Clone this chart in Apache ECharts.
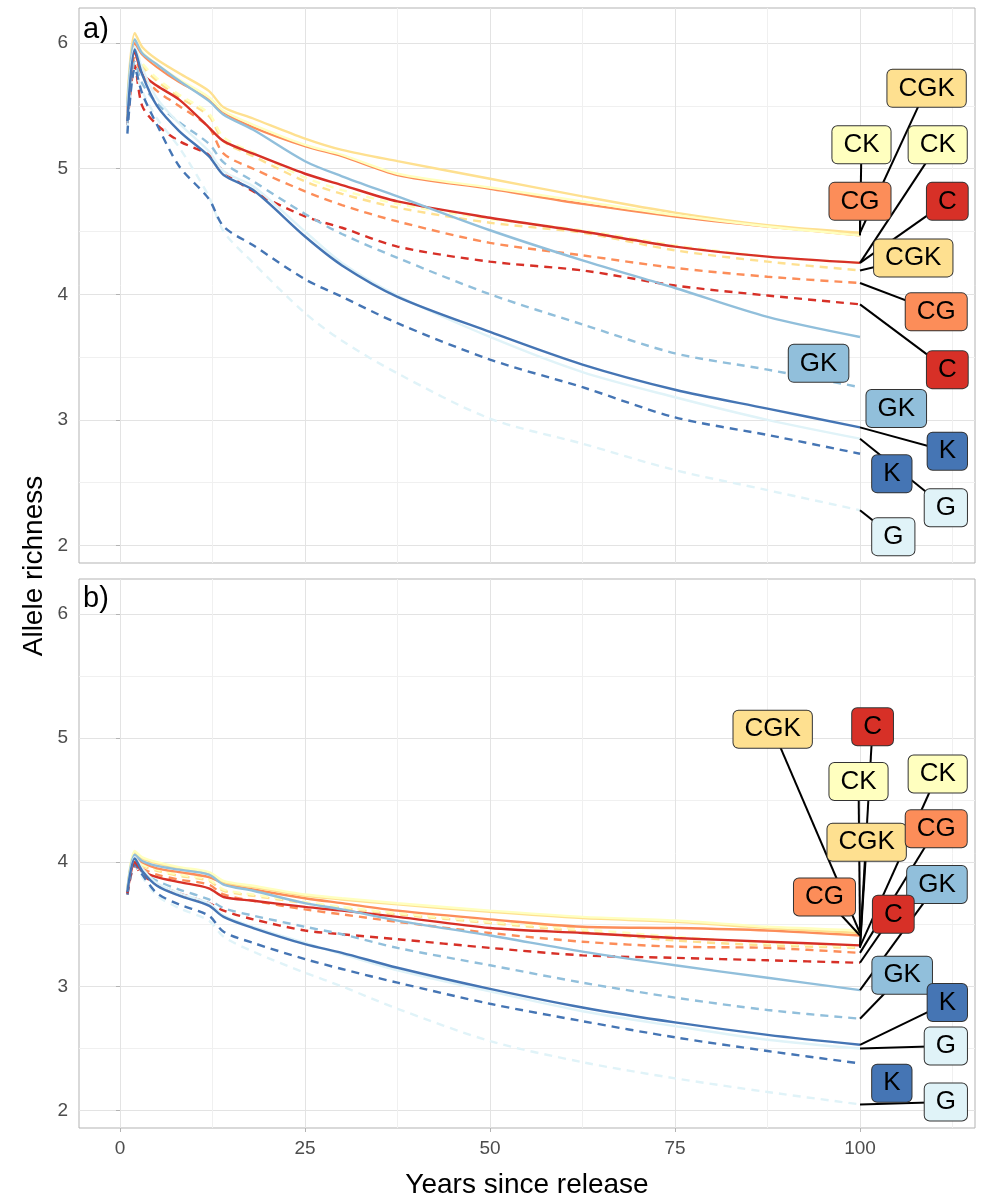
<!DOCTYPE html>
<html><head><meta charset="utf-8">
<script src="https://cdn.jsdelivr.net/npm/echarts@6/dist/echarts.min.js"></script>
<style>html,body{margin:0;padding:0;background:#fff}#c{width:986px;height:1200px}</style>
</head><body><div id="c"></div>
<script>
// ---------- data ----------
const years = [1,2,3,5,8,12,14,18,25,30,37.5,50,62.5,75,87.5,100];
const groups = ['C','CG','CGK','CK','GK','G','K'];
const groupColors = {C:'#d73027', CG:'#fc8d59', CGK:'#fee090', CK:'#ffffbf', GK:'#91bfdb', G:'#e0f3f8', K:'#4575b4'};
const xMajorTicks = [0,25,50,75,100];
const xMinorTicks = [12.5,37.5,62.5,87.5,112.5];
const yMajorTicks = [2,3,4,5,6];
const yMinorTicks = [2.5,3.5,4.5,5.5];
const panelNames = ['a)','b)'];

// panel a
const a_C_solid    = [5.45,5.93,5.76,5.66,5.55,5.33,5.22,5.12,4.96,4.87,4.74,4.61,4.50,4.38,4.30,4.25];
const a_C_dashed   = [5.35,5.82,5.50,5.35,5.22,5.11,4.98,4.82,4.62,4.53,4.38,4.26,4.19,4.07,3.99,3.92];
const a_CG_solid   = [5.48,6.00,5.91,5.81,5.69,5.56,5.45,5.33,5.18,5.10,4.95,4.84,4.72,4.62,4.54,4.47];
const a_CG_dashed  = [5.38,5.88,5.75,5.62,5.50,5.33,5.12,5.00,4.82,4.71,4.58,4.41,4.31,4.21,4.14,4.09];
const a_CGK_solid  = [5.55,6.08,5.97,5.87,5.76,5.62,5.49,5.40,5.24,5.15,5.06,4.92,4.78,4.65,4.55,4.49];
const a_CGK_dashed = [5.42,5.95,5.82,5.70,5.57,5.42,5.22,5.10,4.90,4.80,4.69,4.57,4.49,4.35,4.26,4.19];
const a_CK_solid   = [5.50,6.03,5.93,5.83,5.71,5.57,5.46,5.35,5.19,5.11,4.96,4.85,4.74,4.63,4.54,4.47];
const a_CK_dashed  = [5.44,5.96,5.84,5.72,5.59,5.44,5.25,5.13,4.93,4.83,4.72,4.60,4.51,4.39,4.30,4.25];
const a_GK_solid   = [5.50,6.03,5.92,5.83,5.70,5.54,5.43,5.31,5.06,4.94,4.78,4.51,4.27,4.05,3.82,3.66];
const a_GK_dashed  = [5.35,5.85,5.68,5.52,5.37,5.20,5.05,4.90,4.64,4.48,4.29,4.00,3.76,3.53,3.40,3.26];
const a_G_solid    = [5.45,5.97,5.80,5.56,5.36,5.14,4.98,4.86,4.50,4.25,3.99,3.66,3.38,3.18,3.00,2.85];
const a_G_dashed   = [5.30,5.78,5.62,5.40,5.17,4.78,4.50,4.25,3.85,3.63,3.37,3.01,2.81,2.60,2.44,2.28];
const a_K_solid    = [5.38,5.95,5.75,5.50,5.30,5.10,4.95,4.83,4.46,4.23,3.98,3.70,3.44,3.24,3.09,2.94];
const a_K_dashed   = [5.28,5.80,5.60,5.35,5.02,4.76,4.54,4.39,4.12,3.98,3.77,3.48,3.26,3.02,2.88,2.73];

// panel b
const b_C_solid    = [3.75,4.00,3.93,3.88,3.84,3.79,3.72,3.69,3.64,3.61,3.56,3.47,3.43,3.39,3.36,3.33];
const b_C_dashed   = [3.74,3.97,3.90,3.82,3.75,3.67,3.61,3.54,3.45,3.42,3.38,3.31,3.25,3.23,3.21,3.19];
const b_CG_solid   = [3.77,4.05,4.00,3.95,3.92,3.88,3.83,3.78,3.71,3.67,3.61,3.54,3.48,3.47,3.45,3.41];
const b_CG_dashed  = [3.75,4.00,3.95,3.90,3.86,3.82,3.74,3.69,3.62,3.58,3.52,3.43,3.36,3.32,3.31,3.27];
const b_CGK_solid  = [3.78,4.08,4.03,3.99,3.95,3.91,3.84,3.80,3.73,3.70,3.66,3.60,3.55,3.52,3.47,3.43];
const b_CGK_dashed = [3.76,4.02,3.97,3.93,3.89,3.85,3.77,3.73,3.67,3.63,3.58,3.51,3.44,3.37,3.33,3.31];
const b_CK_solid   = [3.78,4.09,4.04,4.00,3.96,3.92,3.85,3.81,3.74,3.71,3.67,3.61,3.56,3.53,3.48,3.45];
const b_CK_dashed  = [3.76,4.03,3.98,3.94,3.90,3.86,3.78,3.74,3.68,3.64,3.59,3.52,3.46,3.40,3.35,3.32];
const b_GK_solid   = [3.78,4.06,4.01,3.97,3.94,3.90,3.82,3.77,3.67,3.62,3.53,3.41,3.28,3.17,3.07,2.97];
const b_GK_dashed  = [3.74,4.00,3.92,3.85,3.78,3.70,3.63,3.57,3.48,3.42,3.31,3.17,3.03,2.91,2.81,2.74];
const b_G_solid    = [3.77,4.04,3.95,3.83,3.75,3.67,3.57,3.48,3.35,3.26,3.13,2.96,2.80,2.68,2.57,2.50];
const b_G_dashed   = [3.75,3.98,3.88,3.73,3.63,3.53,3.40,3.28,3.11,3.00,2.82,2.56,2.39,2.26,2.15,2.05];
const b_K_solid    = [3.76,4.03,3.93,3.81,3.73,3.65,3.56,3.47,3.34,3.27,3.15,2.98,2.83,2.71,2.61,2.53];
const b_K_dashed   = [3.74,3.98,3.90,3.75,3.66,3.57,3.44,3.35,3.22,3.14,3.03,2.86,2.72,2.59,2.48,2.38];

// label annotations: text, target line, label position (data units), leader shown
const a_labelText   = ['CGK','CK','CG','CK','C','CGK','CG','C','GK','GK','K','K','G','G'];
const a_labelTarget = ['CGK_solid','CK_solid','CG_solid','CK_dashed','C_solid','CGK_dashed','CG_dashed','C_dashed','GK_dashed','GK_solid','K_solid','K_dashed','G_solid','G_dashed'];
const a_labelX      = [109.0,100.2,100.0,110.5,111.8,107.2,110.3,111.8,94.4,104.9,111.8,104.3,111.6,104.5];
const a_labelY      = [5.64,5.19,4.74,5.19,4.74,4.29,3.86,3.40,3.45,3.09,2.75,2.57,2.30,2.07];
const a_labelLeader = [1,1,1,1,1,1,1,1,0,0,1,0,1,1];

const b_labelText   = ['CGK','C','CK','CGK','CK','CG','GK','CG','C','GK','K','G','K','G'];
const b_labelTarget = ['CGK_solid','C_solid','CK_solid','CGK_dashed','CK_dashed','CG_dashed','GK_solid','CG_solid','C_dashed','GK_dashed','K_solid','G_solid','K_dashed','G_dashed'];
const b_labelX      = [88.2,101.7,99.8,100.9,110.5,110.3,110.4,95.2,104.5,105.7,111.8,111.6,104.3,111.6];
const b_labelY      = [5.07,5.09,4.65,4.16,4.71,4.27,3.82,3.72,3.58,3.09,2.87,2.52,2.22,2.07];
const b_labelLeader = [1,1,1,1,1,1,1,1,1,1,1,1,0,1];

// ---------- build ----------
const panels = [
  {C_solid:a_C_solid,C_dashed:a_C_dashed,CG_solid:a_CG_solid,CG_dashed:a_CG_dashed,CGK_solid:a_CGK_solid,CGK_dashed:a_CGK_dashed,
   CK_solid:a_CK_solid,CK_dashed:a_CK_dashed,GK_solid:a_GK_solid,GK_dashed:a_GK_dashed,G_solid:a_G_solid,G_dashed:a_G_dashed,K_solid:a_K_solid,K_dashed:a_K_dashed,
   labels:{text:a_labelText,target:a_labelTarget,x:a_labelX,y:a_labelY,leader:a_labelLeader}},
  {C_solid:b_C_solid,C_dashed:b_C_dashed,CG_solid:b_CG_solid,CG_dashed:b_CG_dashed,CGK_solid:b_CGK_solid,CGK_dashed:b_CGK_dashed,
   CK_solid:b_CK_solid,CK_dashed:b_CK_dashed,GK_solid:b_GK_solid,GK_dashed:b_GK_dashed,G_solid:b_G_solid,G_dashed:b_G_dashed,K_solid:b_K_solid,K_dashed:b_K_dashed,
   labels:{text:b_labelText,target:b_labelTarget,x:b_labelX,y:b_labelY,leader:b_labelLeader}}
];

const XMIN = -5.54, XMAX = 115.54, YMIN = 1.86, YMAX = 6.28;
const FONT = '"Liberation Sans", Arial, Helvetica, sans-serif';
const gridBox = [{left:79, top:8, width:896, height:555},{left:79, top:579, width:896, height:554}];

const grid = gridBox.map(g => Object.assign({show:true, borderColor:'#b3b3b3', borderWidth:1, backgroundColor:'transparent', containLabel:false}, g));
const xAxis = [], yAxis = [];
gridBox.forEach((g, p) => {
  const bottom = p === 1;
  xAxis.push({type:'value', gridIndex:p, min:XMIN, max:XMAX, position:'bottom',
    axisLine:{show:false},
    axisTick:{show:bottom, length:4, lineStyle:{color:'#b3b3b3', width:1}, customValues:xMajorTicks},
    axisLabel:{show:bottom, customValues:xMajorTicks, color:'#4d4d4d', fontSize:19, fontFamily:FONT, margin:11},
    splitLine:{show:true, lineStyle:{color:'#e3e3e3', width:1}},
    name: bottom ? 'Years since release' : '', nameLocation:'middle', nameGap:43,
    nameTextStyle:{color:'#000', fontSize:28, fontFamily:FONT}});
  xAxis.push({type:'value', gridIndex:p, min:XMIN, max:XMAX,
    axisLine:{show:false}, axisTick:{show:false, customValues:xMinorTicks}, axisLabel:{show:false},
    splitLine:{show:true, lineStyle:{color:'#f0f0f0', width:1}}});
  yAxis.push({type:'value', gridIndex:p, min:YMIN, max:YMAX,
    axisLine:{show:false},
    axisTick:{show:true, length:4, lineStyle:{color:'#b3b3b3', width:1}, customValues:yMajorTicks},
    axisLabel:{show:true, customValues:yMajorTicks, color:'#4d4d4d', fontSize:19, fontFamily:FONT, margin:11},
    splitLine:{show:true, lineStyle:{color:'#e3e3e3', width:1}}});
  yAxis.push({type:'value', gridIndex:p, min:YMIN, max:YMAX,
    axisLine:{show:false}, axisTick:{show:false, customValues:yMinorTicks}, axisLabel:{show:false},
    splitLine:{show:true, lineStyle:{color:'#f0f0f0', width:1}}});
});

const series = [];
panels.forEach((pd, p) => {
  const xi = p*2, yi = p*2;
  ['dashed','solid'].forEach(style => {
    groups.forEach(g => {
      const vals = pd[g + '_' + style];
      series.push({type:'line', name:g+' '+style, xAxisIndex:xi, yAxisIndex:yi, z:2,
        data: years.map((x,i)=>[x, vals[i]]), showSymbol:false, symbol:'none', smooth:0.3, clip:true,
        lineStyle:{color:groupColors[g], width:2.4, type: style === 'solid' ? 'solid' : [8,6], cap:'butt'},
        silent:true});
    });
  });
  const L = pd.labels;
  const leaders = [];
  L.text.forEach((t,i) => {
    if (!L.leader[i]) return;
    const arr = pd[L.target[i]];
    leaders.push({coords:[[years[years.length-1], arr[arr.length-1]], [L.x[i], L.y[i]]]});
  });
  series.push({type:'lines', coordinateSystem:'cartesian2d', xAxisIndex:xi, yAxisIndex:yi, z:4, silent:true,
    polyline:false, lineStyle:{color:'#000', width:2, opacity:1, curveness:0}, data:leaders});
  series.push({type:'scatter', xAxisIndex:xi, yAxisIndex:yi, z:6, silent:true, symbolSize:0,
    itemStyle:{opacity:1},
    data: L.text.map((t,i)=>({value:[L.x[i], L.y[i]], name:t,
      label:{backgroundColor:groupColors[t]}})),
    label:{show:true, position:'inside', formatter:'{b}', color:'#000', opacity:1, fontSize:26, fontFamily:FONT,
      lineHeight:25, padding:[6,11,6,11], borderColor:'#333', borderWidth:1, borderRadius:5},
    labelLayout:{hideOverlap:false}});
});

const option = {
  animation:false,
  backgroundColor:'#fff',
  grid, xAxis, yAxis, series,
  graphic:[
    {type:'text', left:83, top:15, style:{text:panelNames[0], fill:'#000', font:'29px ' + FONT}},
    {type:'text', left:83, top:584, style:{text:panelNames[1], fill:'#000', font:'29px ' + FONT}},
    {type:'text', x:34, y:566, rotation:Math.PI/2, style:{text:'Allele richness', fill:'#000', font:'28px ' + FONT, align:'center', verticalAlign:'middle'}}
  ]
};
const chart = echarts.init(document.getElementById('c'), null, {renderer:'canvas'});
chart.setOption(option);
</script></body></html>
